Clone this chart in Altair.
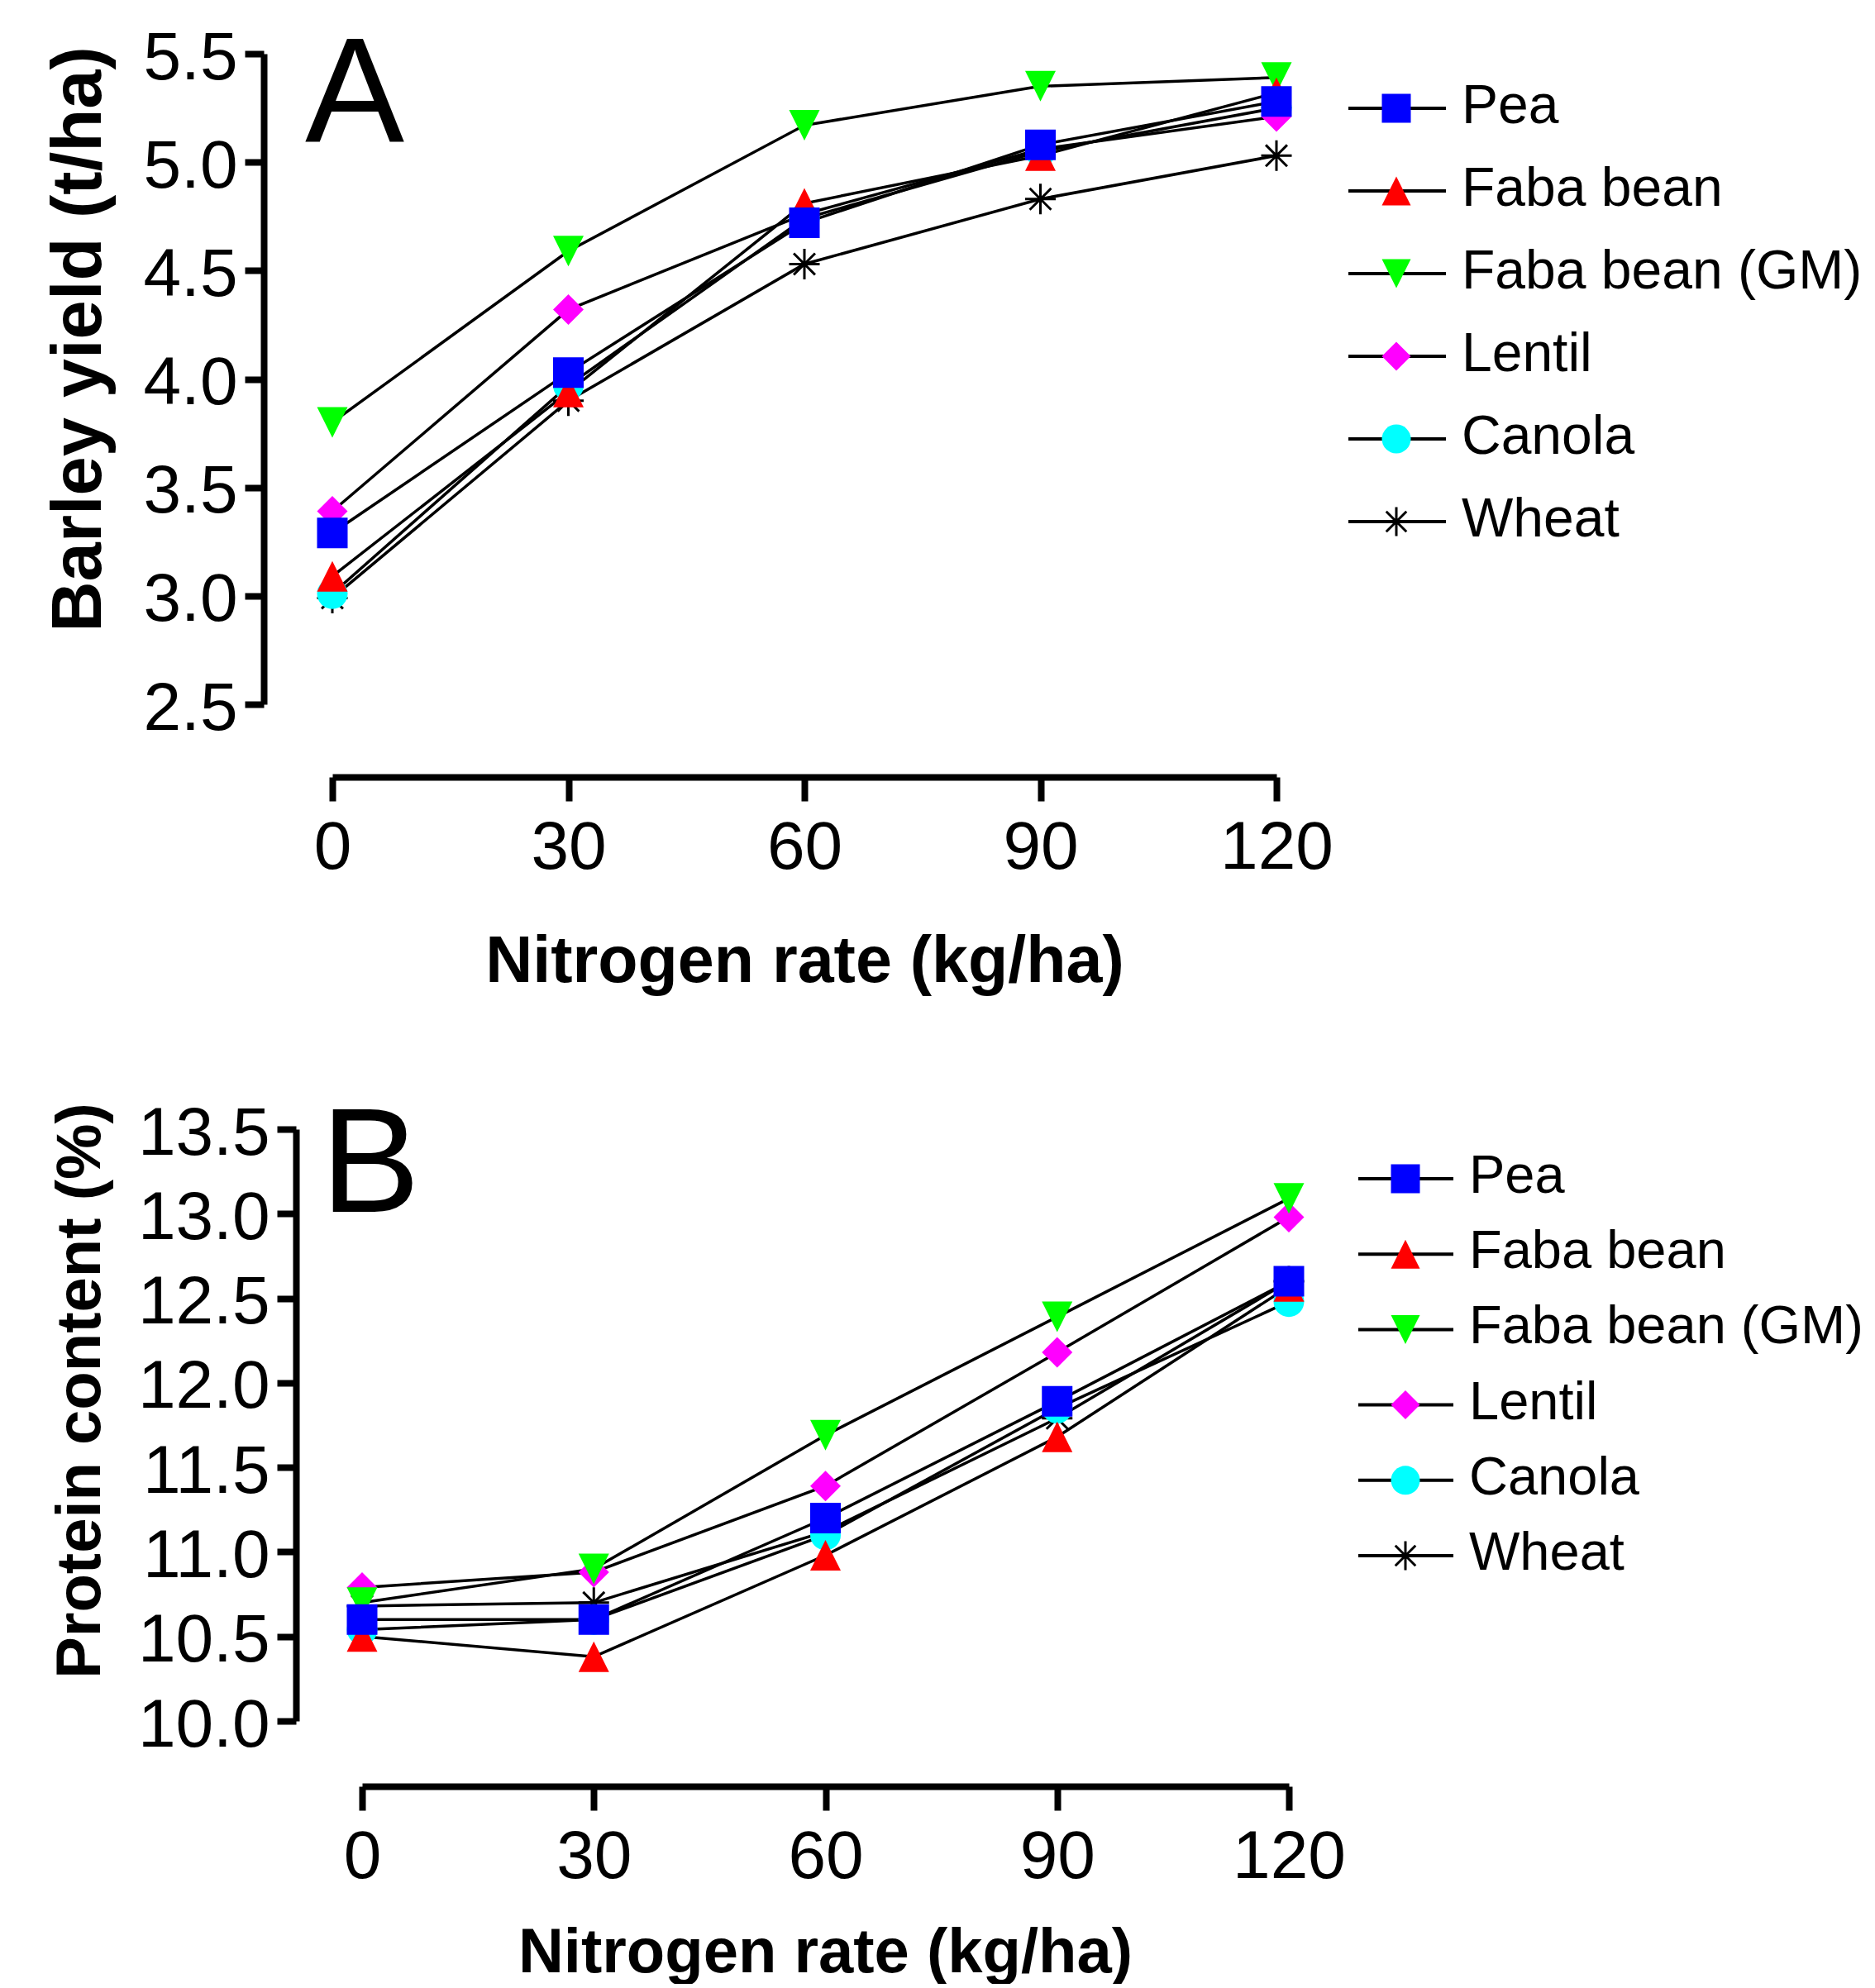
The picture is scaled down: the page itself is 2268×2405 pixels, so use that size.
import altair as alt
import pandas as pd

# ---------------- data ----------------
nitrogen = [0, 30, 60, 90, 120]
series = ["Pea", "Faba bean", "Faba bean (GM)", "Lentil", "Canola", "Wheat"]
fills = ["#0000FF", "#FF0000", "#00FF00", "#FF00FF", "#00FFFF", "#000000"]
draw_order = ["Wheat", "Canola", "Lentil", "Faba bean (GM)", "Faba bean", "Pea"]

yield_pea = [3.29, 4.03, 4.72, 5.08, 5.28]
yield_faba = [3.09, 3.94, 4.81, 5.03, 5.32]
yield_faba_gm = [3.80, 4.59, 5.17, 5.35, 5.39]
yield_lentil = [3.39, 4.32, 4.76, 5.06, 5.21]
yield_canola = [3.01, 3.97, 4.74, 5.05, 5.25]
yield_wheat = [2.99, 3.90, 4.53, 4.83, 5.03]

protein_pea = [10.60, 10.60, 11.20, 11.89, 12.60]
protein_faba = [10.50, 10.38, 10.98, 11.68, 12.57]
protein_faba_gm = [10.70, 10.90, 11.69, 12.39, 13.09]
protein_lentil = [10.79, 10.88, 11.39, 12.18, 12.98]
protein_canola = [10.54, 10.60, 11.10, 11.85, 12.48]
protein_wheat = [10.68, 10.70, 11.12, 11.79, 12.60]

yield_ticks = [2.5, 3.0, 3.5, 4.0, 4.5, 5.0, 5.5]
protein_ticks = [10.0, 10.5, 11.0, 11.5, 12.0, 12.5, 13.0, 13.5]

yield_by_series = {
    "Pea": yield_pea, "Faba bean": yield_faba, "Faba bean (GM)": yield_faba_gm,
    "Lentil": yield_lentil, "Canola": yield_canola, "Wheat": yield_wheat,
}
protein_by_series = {
    "Pea": protein_pea, "Faba bean": protein_faba, "Faba bean (GM)": protein_faba_gm,
    "Lentil": protein_lentil, "Canola": protein_canola, "Wheat": protein_wheat,
}

# ---------------- marker shapes ----------------
SQUARE = "M-1,-1H1V1H-1Z"
TRI_UP = "M0,-1L1,1L-1,1Z"
TRI_DOWN = "M0,1L1,-1L-1,-1Z"
DIAMOND = "M0,-1L1,0L0,1L-1,0Z"
STAR = "M0,-1V1M-1,0H1M-0.7,-0.7L0.7,0.7M-0.7,0.7L0.7,-0.7"
shapes = [SQUARE, TRI_UP, TRI_DOWN, DIAMOND, "circle", STAR]
strokes = ["transparent"] * 5 + ["black"]

FONT = "Liberation Sans"


def long_df(values):
    rows = []
    for s in draw_order:
        for n, v in zip(nitrogen, values[s]):
            rows.append({"series": s, "n": n, "v": v, "rank": draw_order.index(s)})
    return pd.DataFrame(rows)


axis_style = dict(
    domainColor="black", domainWidth=8, tickColor="black", tickWidth=8,
    labelColor="black", labelFont=FONT, labelFontSize=82,
    titleFont=FONT, titleFontWeight="bold", titleColor="black",
    grid=False, labelOverlap=False, labelBound=False,
)

color_enc = alt.Color("series:N", scale=alt.Scale(domain=series, range=fills), legend=None)
shape_enc = alt.Shape("series:N", scale=alt.Scale(domain=series, range=shapes), legend=None)
stroke_enc = alt.Stroke("series:N", scale=alt.Scale(domain=series, range=strokes), legend=None)


def panel(values, p):
    df = long_df(values)
    X = alt.X(
        "n:Q",
        scale=alt.Scale(domain=[0, 120], nice=False, zero=False, range=p["xrange"]),
        axis=alt.Axis(
            values=nitrogen, title="Nitrogen rate (kg/ha)", offset=p["xoff"],
            labelFlush=False, tickSize=29, labelPadding=16,
            titleX=p["xtitleX"], titleY=p["xtitleY"], titleBaseline="alphabetic",
            titleAlign="center", titleFontSize=p["xtitle_font"], **axis_style,
        ),
    )
    yscale = alt.Scale(domain=p["ydomain"], nice=False, zero=False)
    Y = alt.Y(
        "v:Q", scale=yscale,
        axis=alt.Axis(
            values=p["yticks"], format=".1f", title=p["ytitle"], offset=p["yoff"],
            tickSize=23, labelPadding=9, labelOffset=5,
            titleAngle=270, titleX=p["ytitleX"], titleY=p["ytitleY"],
            titleAlign="center", titleBaseline="alphabetic",
            titleFontSize=p["ytitle_font"], **axis_style,
        ),
    )

    base = alt.Chart(df)
    lines = base.mark_line(color="black", strokeWidth=3.5).encode(
        x=X, y=Y, detail="series:N", order="n:Q"
    )
    points = base.mark_point(filled=True, size=1369, opacity=1, strokeWidth=3).encode(
        x=X, y=Y, color=color_enc, shape=shape_enc, stroke=stroke_enc,
        order=alt.Order("rank:Q"),
    )
    letter = alt.Chart(pd.DataFrame({"t": [p["letter"]]})).mark_text(
        align="left", baseline="alphabetic", font=FONT, fontSize=180, color="black"
    ).encode(x=alt.value(p["letter_x"]), y=alt.value(p["letter_y"]), text="t:N")

    data_layer = alt.layer(lines, points, letter)

    leg_df = pd.DataFrame({"series": series})
    yL = alt.Y(
        "series:N",
        scale=alt.Scale(type="point", domain=series, range=p["leg_range"], padding=0),
        axis=None,
    )
    leg_rule = alt.Chart(leg_df).mark_rule(color="black", strokeWidth=4).encode(
        x=alt.value(p["leg_x1"]), x2=alt.value(p["leg_x2"]), y=yL
    )
    leg_pts = alt.Chart(leg_df).mark_point(filled=True, size=1225, opacity=1, strokeWidth=3).encode(
        x=alt.value(p["leg_sym"]), y=yL, color=color_enc, shape=shape_enc, stroke=stroke_enc
    )
    leg_txt = alt.Chart(leg_df).mark_text(
        align="left", baseline="alphabetic", dy=p["leg_dy"], font=FONT,
        fontSize=p["leg_font"], color="black",
    ).encode(x=alt.value(p["leg_txt"]), y=yL, text="series:N")
    legend_layer = alt.layer(leg_rule, leg_pts, leg_txt)

    return (
        alt.layer(data_layer, legend_layer)
        .resolve_scale(y="independent")
        .properties(width=p["W"], height=p["H"])
    )


# Both panels share the same group origin (panel A's x = 0); panel B's x range is shifted.
pA = dict(
    W=1142, H=787, xrange=[0, 1142], xoff=88, yoff=83, ydomain=[2.5, 5.5], yticks=yield_ticks,
    ytitle="Barley yield (t/ha)", ytitleX=-198, ytitleY=345, xtitleX=571, xtitleY=247,
    ytitle_font=85, xtitle_font=79,
    letter="A", letter_x=-33, letter_y=106,
    leg_range=[66, 566], leg_x1=1229, leg_x2=1347, leg_sym=1287, leg_txt=1366,
    leg_font=66, leg_dy=18,
)
pB = dict(
    W=1157, H=716, xrange=[36, 1157], xoff=79, yoff=44, ydomain=[10.0, 13.5], yticks=protein_ticks,
    ytitle="Protein content (%)", ytitleX=-238, ytitleY=316, xtitleX=596, xtitleY=224,
    ytitle_font=76, xtitle_font=76,
    letter="B", letter_x=-14, letter_y=100,
    leg_range=[60, 516], leg_x1=1241, leg_x2=1356, leg_sym=1298, leg_txt=1375,
    leg_font=65, leg_dy=17,
)

chart = (
    alt.vconcat(panel(yield_by_series, pA), panel(protein_by_series, pB), spacing=119)
    .properties(padding={"left": 44, "top": 19, "right": 0, "bottom": 0})
    .configure_view(stroke=None)
)

chart.save("out.html", embed_options={"renderer": "svg", "actions": False})
